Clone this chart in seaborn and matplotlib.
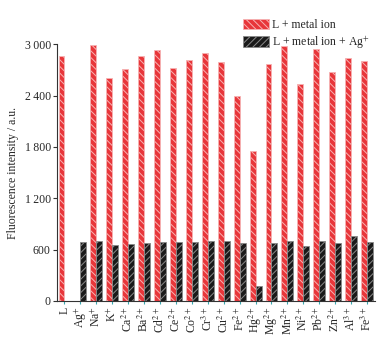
import matplotlib
matplotlib.use("Agg")
import matplotlib.pyplot as plt
from matplotlib.patches import Patch
import seaborn as sns
import pandas as pd

categories = ["L", "Ag$^{+}$", "Na$^{+}$", "K$^{+}$", "Ca$^{2+}$", "Ba$^{2+}$", "Cd$^{2+}$",
              "Ce$^{2+}$", "Co$^{2+}$", "Cr$^{3+}$", "Cu$^{2+}$", "Fe$^{2+}$", "Hg$^{2+}$",
              "Mg$^{2+}$", "Mn$^{2+}$", "Ni$^{2+}$", "Pb$^{2+}$", "Zn$^{2+}$", "Al$^{3+}$", "Fe$^{3+}$"]
metal_ion = [2860, 0, 2988, 2606, 2711, 2867, 2937, 2727, 2816, 2898, 2793, 2399, 1752,
             2766, 2976, 2540, 2945, 2680, 2843, 2800]
metal_ion_ag = [0, 684, 703, 649, 668, 680, 688, 692, 684, 703, 696, 676, 177,
                672, 696, 641, 703, 672, 754, 688]
series_names = ["L + metal ion", "L + metal ion + Ag$^{+}$"]
yticks = [0, 600, 1200, 1800, 2400, 3000]
ytick_labels = ["0", "600", "1\u2009200", "1\u2009800", "2\u2009400", "3\u2009000"]

df = pd.DataFrame({
    "ion": categories * 2,
    "value": metal_ion + metal_ion_ag,
    "series": [series_names[0]] * len(categories) + [series_names[1]] * len(categories),
})

sns.set_style("white")
plt.rcParams["font.family"] = ["Liberation Serif", "DejaVu Serif"]
plt.rcParams["mathtext.fontset"] = "stix"
plt.rcParams["hatch.linewidth"] = 0.7

fig = plt.figure(figsize=(3.87, 3.37), dpi=100)
ax = fig.add_axes([0.1473, 0.1074, 0.8217, 0.7611])

colors = ["#e8363a", "#1a1a1a"]
sns.barplot(data=df, x="ion", y="value", hue="series", palette=colors,
            width=0.75, gap=0, ax=ax, legend=False, saturation=1)

styles = [("#f6b3b3", "\\\\\\\\\\"), ("#8a8a8a", "/////")]
for cont, (ec, h) in zip(ax.containers, styles):
    for p in cont:
        p.set_edgecolor(ec)
        p.set_hatch(h)
        p.set_linewidth(0.6)

ax.set_ylim(0, 3000)
ax.set_xlim(-0.47, 19.5)
ax.set_yticks(yticks)
ax.set_yticklabels(ytick_labels, fontsize=8.5)
ax.set_xticks(range(len(categories)))
ax.set_xticklabels(categories, rotation=90, fontsize=8.5)
ax.set_xlabel("")
ax.set_ylabel("Fluorescence intensity / a.u.", fontsize=8.5)
ax.tick_params(axis="y", direction="out", length=3, width=0.8, color="#333333", pad=1.5, left=True)
ax.tick_params(axis="x", direction="out", length=2, width=0.8, color="#3aa7b0", pad=2, bottom=True)
for s in ["top", "right"]:
    ax.spines[s].set_visible(False)
for s in ["left", "bottom"]:
    ax.spines[s].set_color("#333333")
    ax.spines[s].set_linewidth(0.8)

handles = [Patch(facecolor=colors[0], edgecolor=styles[0][0], hatch=styles[0][1], linewidth=0.6),
           Patch(facecolor=colors[1], edgecolor=styles[1][0], hatch=styles[1][1], linewidth=0.6)]
fig.legend(handles, series_names, loc="upper right", bbox_to_anchor=(0.975, 0.965),
           frameon=False, fontsize=8.5, handlelength=2.2, handleheight=1.0,
           handletextpad=0.3, labelspacing=0.25, borderpad=0.1)

fig.savefig("out.png", dpi=100)
